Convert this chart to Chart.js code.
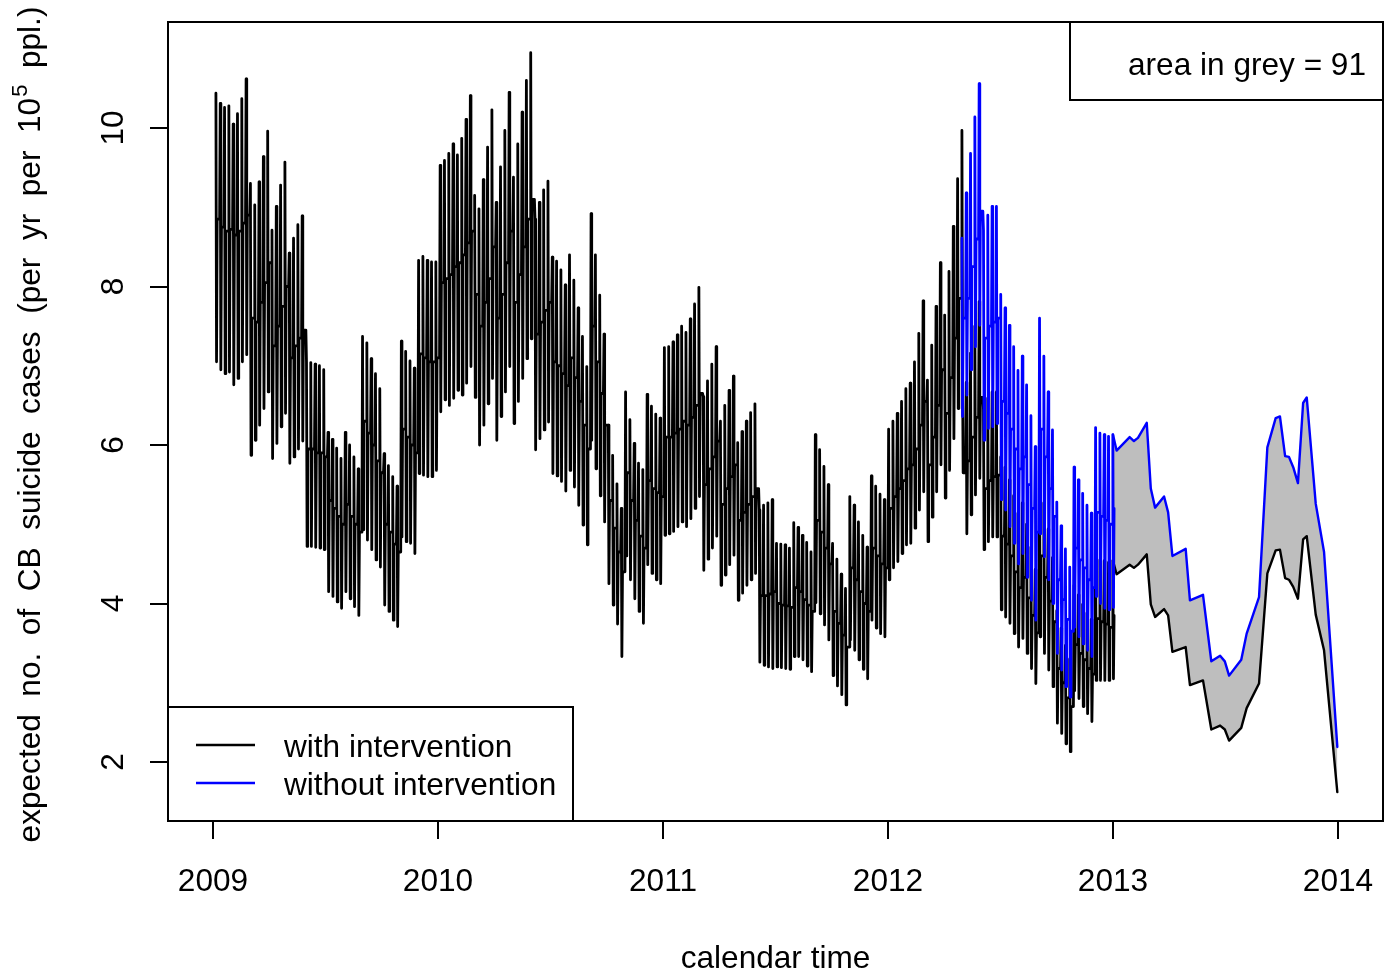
<!DOCTYPE html>
<html lang="en">
<head>
<meta charset="UTF-8">
<title>expected no. of CB suicide cases</title>
<script src="https://cdn.jsdelivr.net/npm/chart.js@4.4.1/dist/chart.umd.min.js"></script>
<style>
  html, body { margin: 0; padding: 0; background: #fff; }
  #wrap { width: 1385px; height: 974px; }
</style>
</head>
<body>
<div id="wrap"><canvas id="chart" width="1385" height="974"></canvas></div>
<script>
// ---- data ----
// weekly spikes: high day, low day, and the level of the other days
const hi2009 = [10.44,10.31,10.26,10.28,10.05,10.18,10.37,10.62, 9.30,9.03,9.32,9.64,9.96, 8.71,9.01,9.28,9.57, 8.42,8.61,8.78,8.89,
  7.05,7.04,7.02,7.00,6.95, 6.16,6.07,5.96,5.83,6.16,6.00,5.85,5.70, 7.37,7.29,7.09,6.90,6.71, 5.89,5.74,5.60,5.48, 7.31,7.18,7.06,6.97, 8.33,8.38,8.33,8.31,8.31];
const lo2009 = [7.05,6.95,6.90,6.92,6.76,6.84,7.05,7.14, 5.87,6.06,6.25,6.46,6.67, 5.83,6.02,6.23,6.40, 5.77,5.85,5.95,6.05,
  4.72,4.72,4.71,4.70,4.68, 4.15,4.09,4.02,3.94,4.15,4.06,3.96,3.85, 4.93,4.80,4.68,4.55,4.46, 3.98,3.90,3.79,3.71, 4.84,4.78,4.76,4.63, 5.64,5.62,5.60,5.60,5.68];
const mid2009 = [8.85,8.75,8.70,8.72,8.65,8.70,8.80,8.90, 7.60,7.55,7.80,8.05,8.30, 7.25,7.50,7.75,8.00, 7.10,7.25,7.35,7.45,
  5.95,5.95,5.90,5.90,5.85, 5.30,5.20,5.10,5.00,5.25,5.10,5.00,4.90, 6.30,6.15,6.00,5.80,5.65, 5.00,4.90,4.75,4.65, 6.20,6.10,6.00,5.90, 7.15,7.10,7.05,7.05,7.10];

const hi2010 = [9.53,9.59,9.68,9.80,9.66,9.87,10.11,10.41, 9.15, 8.98,9.35,9.76,10.23, 9.06,9.51,9.97,10.45, 9.38,9.80,10.20,10.60,10.95, 8.85,9.06,9.22,9.33,
  8.37,8.32,8.21,8.02,8.40,8.08,7.73,7.37,6.99, 8.92,8.40,7.89,7.40, 6.25,5.87,5.51,5.20, 6.67,6.32,6.02,5.77,5.69, 6.64,6.49,6.39,6.34];
const lo2010 = [6.42,6.57,6.50,6.59,6.69,6.63,6.78,6.99, 6.60, 6.00,6.25,6.52,6.84, 6.06,6.36,6.67,6.99, 6.27,6.55,6.84,7.09,7.34, 5.94,6.08,6.19,6.29,
  5.64,5.61,5.54,5.42,5.68,5.47,5.24,4.99,4.74, 6.06,5.70,5.36,5.03, 4.25,3.98,3.74,3.33, 4.60,4.30,4.06,3.90,3.75, 4.49,4.38,4.30,4.25];
const mid2010 = [8.05,8.10,8.15,8.25,8.30,8.40,8.55,8.70, 7.90, 7.50,7.80,8.10,8.50, 7.60,7.90,8.30,8.70, 7.80,8.15,8.50,8.85,9.10, 7.40,7.55,7.70,7.80,
  7.05,7.00,6.90,6.75,7.10,6.85,6.55,6.25,5.95, 7.50,7.05,6.65,6.25, 5.30,4.95,4.65,4.40, 5.65,5.30,5.05,4.85,4.70, 5.55,5.45,5.40,5.35];

const hi2011 = [7.23,7.24,7.30,7.39,7.50,7.42,7.59,7.78,7.99, 6.61,6.81,7.02,7.24, 6.30,6.50,6.69,6.87, 6.03,6.17,6.30,6.41,6.52, 5.18,5.24,5.27,5.31,
  4.76,4.75,4.74,4.70, 5.02,4.96,4.86,4.77,4.65, 6.13,5.94,5.73,5.50, 4.76,4.56,4.37,4.19, 5.35,5.24,5.03,4.86,4.71, 5.61,5.48,5.38,5.31];
const lo2011 = [4.86,4.88,4.91,4.97,5.03,4.97,5.07,5.20,5.35, 4.42,4.56,4.70,4.85, 4.23,4.36,4.49,4.61, 4.04,4.13,4.23,4.30,4.38, 3.26,3.22,3.20,3.18,
  3.20,3.19,3.18,3.17, 3.33,3.33,3.29,3.21,3.14, 4.01,3.87,3.73,3.54, 3.09,2.96,2.85,2.72, 3.54,3.41,3.29,3.17,3.05, 3.79,3.69,3.62,3.58];
const mid2011 = [6.10,6.10,6.15,6.20,6.30,6.25,6.35,6.50,6.65, 5.50,5.70,5.85,6.05, 5.25,5.45,5.60,5.75, 5.05,5.15,5.25,5.35,5.45, 4.10,4.10,4.12,4.15,
  4.00,3.98,3.97,3.95, 4.20,4.15,4.05,3.98,3.90, 5.05,4.90,4.70,4.50, 3.90,3.75,3.60,3.45, 4.45,4.30,4.15,4.00,3.90, 4.70,4.60,4.50,4.45];

// 2012 runs to the first week of 2013
const hi2012 = [6.20,6.30,6.40,6.55,6.71,6.78,7.05,7.41,7.82, 6.82,7.26,7.75,8.30, 7.64,8.19,8.76,9.36,9.97, 6.79,7.16,7.50,7.81, 6.45,6.59,6.67,6.67,
  5.85,5.72,5.56,5.36,5.14,5.27,5.00,4.71,4.43, 5.62,5.27,4.94,4.58, 3.91,3.69,3.47,3.30, 4.23,4.11,3.99,3.88,3.80, 4.60,4.55,4.54,4.52,4.54];
const lo2012 = [4.30,4.45,4.53,4.63,4.74,4.76,4.95,5.18,5.41, 4.78,5.09,5.41,5.75, 5.33,5.68,6.08,6.46,6.88, 4.88,5.12,5.37,5.58, 4.68,4.78,4.84,4.84,
  3.92,3.83,3.75,3.62,3.45,3.56,3.37,3.18,2.99, 3.58,3.37,3.16,2.95, 2.49,2.36,2.23,2.13, 2.90,2.80,2.70,2.61,2.51, 3.03,3.03,3.03,3.03,3.05];
const mid2012 = [5.20,5.35,5.45,5.55,5.70,5.75,5.95,6.25,6.55, 5.75,6.10,6.50,6.95, 6.40,6.85,7.35,7.85,5.65, 5.80,6.10,6.35,6.60, 5.45,5.55,5.60,5.62,
  4.85,4.75,4.60,4.40,4.20,4.33,4.07,3.85,3.63, 4.60,4.33,4.03,3.77, 3.18,3.00,2.81,2.70, 3.48,3.37,3.29,3.18,3.11, 3.81,3.77,3.74,3.70,3.85];

// without intervention, from week 17 of 2012
const withoutStartWeek = 173;
const withoutHi = [8.61, 9.18,9.68,10.14,10.56, 8.71,8.90,9.01,9.01, 7.90,7.73,7.51,7.24,6.94,7.12,6.76,6.37,5.98, 7.60,7.12,6.67,6.19,
  5.28,4.98,4.69,4.46, 5.72,5.56,5.39,5.24,5.14, 6.22,6.15,6.13,6.11,6.13];
const withoutLo = [6.36, 6.63,6.95,7.24,7.51, 6.06,6.21,6.23,6.27, 5.31,5.18,4.97,4.76,4.50,4.63,4.33,4.04,3.79, 4.88,4.59,4.30,4.00,
  3.37,3.16,2.95,2.82, 3.70,3.58,3.49,3.41,3.33, 4.09,4.00,3.94,3.92,3.95];
const withoutMid = [7.60, 7.85,8.25,8.60,8.95, 7.35,7.50,7.55,7.60, 6.55,6.40,6.20,5.95,5.70,5.85,5.50,5.20,4.90, 6.20,5.85,5.45,5.10,
  4.30,4.05,3.80,3.65, 4.70,4.55,4.45,4.30,4.20, 5.15,5.10,5.05,5.00,5.20];

// 2013 forecast
const times2013 = [2013.0,2013.016,2013.074,2013.093,2013.111,2013.150,2013.168,2013.187,2013.227,2013.245,2013.264,2013.323,2013.342,
  2013.400,2013.437,2013.476,2013.497,2013.516,2013.570,2013.594,2013.649,2013.686,2013.723,2013.742,2013.765,2013.782,2013.801,
  2013.822,2013.845,2013.861,2013.901,2013.938,2013.997];
const without2013 = [6.13,5.93,6.10,6.05,6.09,6.28,5.45,5.21,5.35,5.15,4.60,4.69,4.04,4.11,3.27,3.34,3.27,3.09,3.29,3.62,4.08,5.97,
  6.34,6.36,5.86,5.85,5.72,5.52,6.53,6.60,5.26,4.65,2.19];
const with2013 = [4.54,4.37,4.49,4.45,4.49,4.62,3.99,3.83,3.93,3.85,3.39,3.45,2.97,3.03,2.41,2.46,2.41,2.27,2.43,2.68,2.99,4.38,
  4.67,4.68,4.32,4.30,4.21,4.06,4.81,4.85,3.86,3.41,1.62];

const xTickYears = [2009, 2010, 2011, 2012, 2013, 2014];
const yTickValues = [2, 4, 6, 8, 10];
const seriesNames = ['with intervention', 'without intervention'];
const greyArea = 91;

// ---- build line points ----
const DAY = 1 / 365.25;
const FIRST_WEEK = 2009.013;
const withHi = [...hi2009, ...hi2010, ...hi2011, ...hi2012];
const withLo = [...lo2009, ...lo2010, ...lo2011, ...lo2012];
const withMid = [...mid2009, ...mid2010, ...mid2011, ...mid2012];
const LAST_WEEK = withHi.length - 1;

function weeklyPoints(start, hi, lo, mid) {
  const pts = [];
  for (let i = 0; i < hi.length; i++) {
    const w = start + i;
    const t = FIRST_WEEK + w * 7 * DAY;
    pts.push({x: t, y: hi[i]}, {x: t + DAY, y: lo[i]}, {x: t + 2 * DAY, y: mid[i]});
    if (w < LAST_WEEK) pts.push({x: t + 6 * DAY, y: mid[i]});
  }
  return pts;
}
const pairs = (xs, ys) => xs.map((x, i) => ({x: x, y: ys[i]}));

const FONT = '31.6px "Liberation Sans", Arial, Helvetica, sans-serif';
const SUP_FONT = '22px "Liberation Sans", Arial, Helvetica, sans-serif';
const BLUE = '#0000ff';

const decor = {
  id: 'decor',
  afterDraw(chart) {
    const {ctx, chartArea: a, scales: {x, y}} = chart;
    ctx.save();
    ctx.fillStyle = '#000';
    ctx.strokeStyle = '#000';
    ctx.lineWidth = 2;
    ctx.strokeRect(a.left, a.top, a.right - a.left, a.bottom - a.top);
    ctx.font = FONT;
    ctx.textBaseline = 'alphabetic';

    // x tick labels
    ctx.textAlign = 'center';
    xTickYears.forEach(v => ctx.fillText(String(v), x.getPixelForValue(v), 891));
    // y tick labels, rotated like R
    yTickValues.forEach(v => {
      ctx.save();
      ctx.translate(123, y.getPixelForValue(v));
      ctx.rotate(-Math.PI / 2);
      ctx.fillText(String(v), 0, 0);
      ctx.restore();
    });
    // axis titles
    ctx.fillText('calendar time', (a.left + a.right) / 2, 968);
    const s1 = 'expected  no.  of  CB  suicide  cases  (per  yr  per  10';
    const s2 = '5';
    const s3 = '  ppl.)';
    const w1 = ctx.measureText(s1).width, w3 = ctx.measureText(s3).width;
    ctx.font = SUP_FONT;
    const w2 = ctx.measureText(s2).width;
    const total = w1 + w2 + w3;
    ctx.save();
    ctx.translate(40, (a.top + a.bottom) / 2 + 3);
    ctx.rotate(-Math.PI / 2);
    ctx.textAlign = 'left';
    ctx.font = FONT;
    ctx.fillText(s1, -total / 2, 0);
    ctx.font = SUP_FONT;
    ctx.fillText(s2, -total / 2 + w1 + 1, -13);
    ctx.font = FONT;
    ctx.fillText(s3, -total / 2 + w1 + w2, 0);
    ctx.restore();
    ctx.font = FONT;

    // legend, bottom left
    ctx.fillStyle = '#fff';
    ctx.fillRect(168, 707, 405, 114);
    ctx.strokeRect(168, 707, 405, 114);
    ctx.lineWidth = 2.4;
    [['#000', 745], [BLUE, 783]].forEach(([c, ly]) => {
      ctx.strokeStyle = c;
      ctx.beginPath(); ctx.moveTo(196, ly); ctx.lineTo(255, ly); ctx.stroke();
    });
    ctx.fillStyle = '#000';
    ctx.textAlign = 'left';
    ctx.fillText(seriesNames[0], 284, 757);
    ctx.fillText(seriesNames[1], 284, 795);

    // area box, top right
    ctx.strokeStyle = '#000';
    ctx.lineWidth = 2;
    ctx.fillStyle = '#fff';
    ctx.fillRect(1070, 22, 313, 78);
    ctx.strokeRect(1070, 22, 313, 78);
    ctx.fillStyle = '#000';
    ctx.textAlign = 'right';
    ctx.fillText('area in grey = ' + greyArea, 1366, 75);
    ctx.restore();
  }
};

const lineBase = {
  borderWidth: 2.8,
  pointRadius: 0,
  tension: 0,
  fill: false,
  borderJoinStyle: 'round',
  borderCapStyle: 'round'
};

new Chart(document.getElementById('chart'), {
  type: 'line',
  data: {
    datasets: [
      Object.assign({}, lineBase, {
        label: seriesNames[1], borderColor: BLUE, order: 0,
        data: weeklyPoints(withoutStartWeek, withoutHi, withoutLo, withoutMid)
      }),
      Object.assign({}, lineBase, {
        label: seriesNames[1] + ' 2013', borderColor: BLUE, order: 1, borderWidth: 2.4,
        data: pairs(times2013, without2013)
      }),
      Object.assign({}, lineBase, {
        label: seriesNames[0], borderColor: '#000', order: 2,
        data: weeklyPoints(0, withHi, withLo, withMid)
      }),
      Object.assign({}, lineBase, {
        label: seriesNames[0] + ' 2013', borderColor: '#000', order: 3, borderWidth: 2.4,
        data: pairs(times2013, with2013),
        fill: {target: 1}, backgroundColor: '#bebebe'
      })
    ]
  },
  options: {
    responsive: false,
    animation: false,
    parsing: false,
    normalized: true,
    layout: {padding: {left: 0, top: 22, right: 2, bottom: 0}},
    plugins: {
      legend: {display: false},
      tooltip: {enabled: false},
      filler: {drawTime: 'beforeDatasetsDraw'}
    },
    scales: {
      x: {
        type: 'linear', min: 2008.8, max: 2014.2,
        afterBuildTicks: s => { s.ticks = xTickYears.map(v => ({value: v})); },
        afterFit: s => { s.height = 153; },
        ticks: {display: false},
        grid: {drawOnChartArea: false, drawTicks: true, tickLength: 18, color: '#000', lineWidth: 2},
        border: {display: true, color: '#000', width: 2}
      },
      y: {
        type: 'linear', min: 1.2555, max: 11.338,
        afterBuildTicks: s => { s.ticks = yTickValues.map(v => ({value: v})); },
        afterFit: s => { s.width = 168; },
        ticks: {display: false},
        grid: {drawOnChartArea: false, drawTicks: true, tickLength: 18, color: '#000', lineWidth: 2},
        border: {display: true, color: '#000', width: 2}
      }
    }
  },
  plugins: [decor]
});
</script>
</body>
</html>
